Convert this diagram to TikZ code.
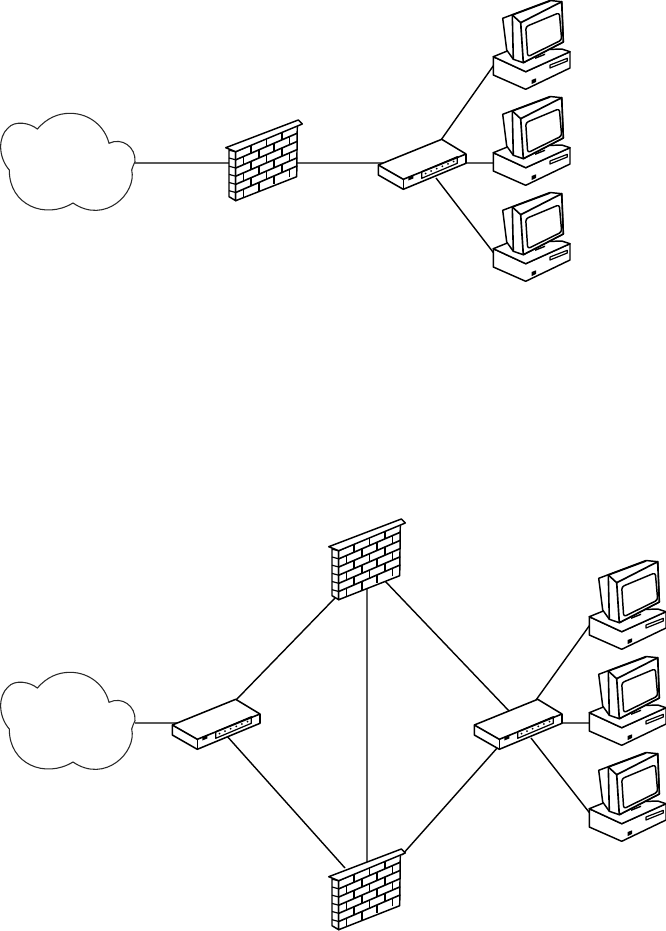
\documentclass[tikz,border=0pt]{standalone}
\usetikzlibrary{calc}
\tikzset{
 dev/.style={draw=black,fill=white,line width=1.1pt,line join=round},
 thick line/.style={draw=black,line width=1.2pt,line join=round},
 thin line/.style={draw=black,line width=0.9pt,line join=round},
 link/.style={draw=black,line width=1.05pt},
 cloudline/.style={draw=black!85,fill=white,line width=0.8pt}
}
\newcommand{\cloudat}[2]{\begin{scope}[shift={(#1,#2)}]
 \path[cloudline] (37.3,24) .. controls (47,13) and (58,8.3) .. (70,8.3)
 .. controls (90,8.3) and (105,22) .. (109,38.3)
 .. controls (122,32) and (136,42) .. (135,56.7)
 .. controls (134,60) and (132,62) .. (131.7,65)
 .. controls (137,88) and (105,120) .. (73,98)
 .. controls (45,115) and (9,100) .. (9.3,65)
 .. controls (-2,52) and (-2,32) .. (8,23)
 .. controls (15,15) and (30,18) .. (37.3,24) -- cycle;
\end{scope}}
\newcommand{\wallat}[2]{\begin{scope}[shift={(#1,#2)}]
 \path[dev] (14,40) -- (20.7,41.7) -- (20.7,90.7) -- (14,86.7) -- cycle;
 \path[dev] (20.7,41.7) -- (82.3,15) -- (81.7,66.7) -- (20.7,90.7) -- cycle;
 \path[dev] (10.7,37.7) -- (83.3,10) -- (87.3,14) -- (20.7,41.7) -- cycle;
 \foreach \yy in {49.8,58,66.2,74.3,82.5}{\draw[thin line] (14,\yy-1.8) -- (20.7,\yy);}
 \begin{scope}[shift={(20.7,41.7)}]
 \begin{scope}[x={(46.2pt,20pt)},y={(0pt,-36.75pt)}]
  \foreach \r in {1,...,5}{\draw[thick line] (0,\r/6) -- (1,\r/6);}
  \foreach \r in {0,2,4}{\foreach \c in {0.25,0.5,0.75}{\draw[thick line] (\c,\r/6) -- (\c,\r/6+1/6);}}
  \foreach \r in {1,3,5}{\foreach \c in {0.125,0.375,0.625,0.875}{\draw[thick line] (\c,\r/6) -- (\c,\r/6+1/6);}}
 \end{scope}\end{scope}
\end{scope}}
\newcommand{\switchat}[2]{\begin{scope}[shift={(#1,#2)}]
 \path[dev,line width=1.15pt] (8.3,35) -- (71.7,9.3) -- (96,24) -- (96,33.3) -- (33.3,59.3) -- (8.3,45) -- cycle;
 \draw[thick line] (8.3,35) -- (33.3,49.3) -- (96,24);
 \draw[thick line] (33.3,49.3) -- (33.3,59.3);
 \draw[thin line] (51.7,41.7) -- (87.3,26.7) -- (87.3,33.3) -- (51.7,48.3) -- cycle;
 \foreach \t in {0.1,0.26,0.42,0.58,0.74,0.9}{\fill ($(52,45)!\t!(87,30)$) circle (1);}
 \fill (38.3,47) -- (43.3,45) -- (43.3,48.5) -- (38.3,50.5) -- cycle;
\end{scope}}
\newcommand{\pcat}[2]{\begin{scope}[shift={(#1,#2)}]
 \path[dev] (13.3,56.7) -- (45.7,71.7) -- (90,51.7) -- (90,68) -- (45.7,89.3) -- (13.3,75) -- cycle;
 \path[dev] (13.3,56.7) -- (27.3,51) -- (81.7,49) -- (90,51.7) -- (45.7,71.7) -- cycle;
 \path[dev] (22.7,18.3) -- (70,0.5) -- (81.7,1.7) -- (83.3,42) -- (43.3,62.7) -- (33.3,59.3) -- (26.7,50) -- cycle;
 \path[dev,line width=1.25pt] (40.7,22.7) -- (81.7,1.7) -- (83.3,42) -- (43.3,62.7) -- cycle;
 \draw[thick line] (32.3,15) -- (33.3,59.3);
 \draw[thick line] (32.3,15) -- (40.7,22.7);
 \draw[thick line] (32.3,15) -- (70,1);
 \path[dev,rounded corners=2pt] (45.7,26.7) -- (79.3,12.7) -- (81.7,40) -- (47.7,56.7) -- cycle;
 \draw[thin line] (70,65) -- (87.3,58.3) -- (87.3,61) -- (70,68) -- cycle;
 \fill (51.7,80) -- (56,78.3) -- (56,82) -- (51.7,84) -- cycle;
 \fill (55,57.5) -- (65,53.5) -- (65,55) -- (55,59) -- cycle;
\end{scope}}
\begin{document}
\begin{tikzpicture}[x=0.75pt,y=-0.75pt]
\useasboundingbox (0,0) rectangle (666,931);
\fill[white] (0,0) rectangle (666,931);
\coordinate (c1) at (135,163);
\coordinate (w1l) at (235,163);
\coordinate (w1r) at (295,163);
\coordinate (s1l) at (390,163);
\coordinate (s1t) at (441,140);
\coordinate (s1r) at (460,163);
\coordinate (s1b) at (436,178);
\coordinate (p1) at (496,62);
\coordinate (p2) at (496,163);
\coordinate (p3) at (496,256);
\coordinate (c2) at (135,723);
\coordinate (s2l) at (180,723);
\coordinate (s2t) at (236,700);
\coordinate (s2b) at (226,735);
\coordinate (w2l) at (335,598);
\coordinate (w2b) at (367,585);
\coordinate (w2r) at (385,581);
\coordinate (w3l) at (345,868);
\coordinate (w3t) at (367,865);
\coordinate (w3r) at (402,855);
\coordinate (s3tl) at (510,712);
\coordinate (s3bl) at (498,747);
\coordinate (s3t) at (536,700);
\coordinate (s3r) at (556,723);
\coordinate (s3b) at (531,738);
\coordinate (p4) at (592,622);
\coordinate (p5) at (592,723);
\coordinate (p6) at (592,816);
\draw[link] (c1) -- (w1l) (w1r) -- (s1l) (s1t) -- (p1) (s1r) -- (p2) (s1b) -- (p3);
\draw[link] (c2) -- (s2l) (s2t) -- (w2l) (s2b) -- (w3l) (w2b) -- (w3t) (w2r) -- (s3tl) (w3r) -- (s3bl) (s3t) -- (p4) (s3r) -- (p5) (s3b) -- (p6);
\cloudat{0}{105}
\cloudat{0}{664}
\wallat{215}{110}
\wallat{318}{509}
\wallat{318}{839}
\switchat{370}{130}
\switchat{164}{690}
\switchat{466}{690}
\pcat{480}{0}
\pcat{480}{96}
\pcat{480}{192}
\pcat{576}{560}
\pcat{576}{656}
\pcat{576}{752}
\end{tikzpicture}
\end{document}
